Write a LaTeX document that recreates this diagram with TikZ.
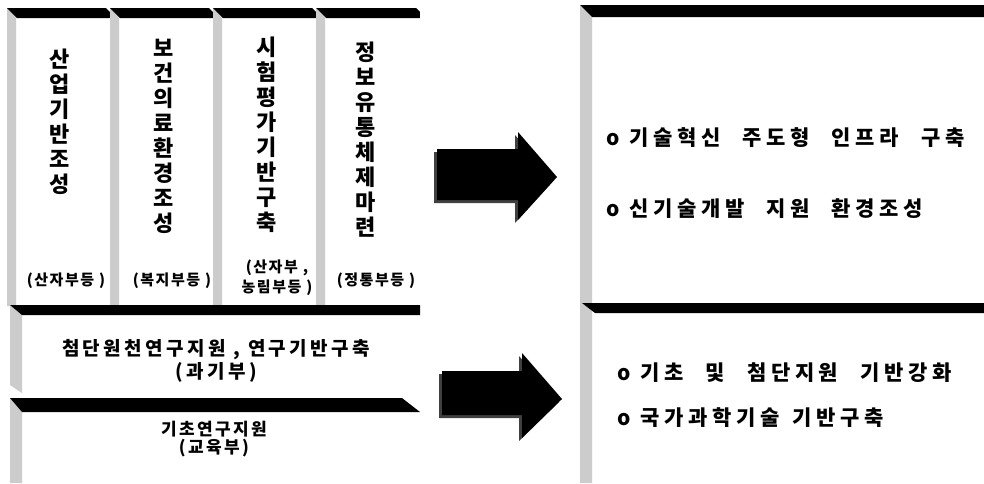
\documentclass[tikz,border=0pt]{standalone}
\usepackage{fontspec}
\newfontfamily\kr{Noto Sans CJK KR}
\newcommand\wg{\hspace{22pt}}
\newcommand\og{\hspace{10pt}}
\begin{document}
\begin{tikzpicture}[x=1pt,y=-1pt,
  coltext/.style={font=\kr\bfseries\fontsize{22}{25}\selectfont, align=center, inner sep=0pt, anchor=center},
  lbl/.style={font=\kr\bfseries\fontsize{15}{20}\selectfont\addfontfeature{LetterSpace=10}, align=center, inner sep=0pt},
  boxtext/.style={font=\kr\bfseries\fontsize{19}{23}\selectfont\addfontfeature{LetterSpace=18}, align=center, inner sep=0pt},
  boxtextb/.style={font=\kr\bfseries\fontsize{17}{18}\selectfont\addfontfeature{LetterSpace=14}, align=center, inner sep=0pt},
  rtext/.style={font=\kr\bfseries\fontsize{21}{24}\selectfont\addfontfeature{LetterSpace=22}, anchor=west, inner sep=0pt},
  bar/.style={fill=black},
  strip/.style={fill=gray!40},
  blockarrow/.style={fill=black},
  arrowshadow/.style={fill=black!75}]
\useasboundingbox (0,0) rectangle (984,483);
\fill[white] (0,0) rectangle (984,483);

% ---- left: four columns ----
\foreach \xl/\xr in {7/110,110/213,213/316,316/420}{
  \fill[strip] (\xl,8) -- (\xl+9,18) -- (\xl+9,306) -- (\xl,306) -- cycle;
  \fill[bar] (\xl,8) -- (\xr-4,8) -- (\xr+6,18) -- (\xl+10,18) -- cycle;
}
\fill[white] (420,0) rectangle (440,20);

\node[coltext] (c1) at (60,121.5) {산\\업\\기\\반\\조\\성};
\node[coltext] (c2) at (164,136.5) {보\\건\\의\\료\\환\\경\\조\\성};
\node[coltext] (c3) at (267,135) {시\\험\\평\\가\\기\\반\\구\\축};
\node[coltext] (c4) at (366,139.5) {정\\보\\유\\통\\체\\제\\마\\련};

\node[lbl] (l1) at (66,281) {(산자부등 )};
\node[lbl] (l2) at (172,281) {(복지부등 )};
\node[lbl] (l3) at (277,278) {(산자부 ,\\농림부등 )};
\node[lbl] (l4) at (376,281) {(정통부등 )};

% ---- left: box 2 ----
\fill[strip] (10,305) -- (22,315) -- (22,393) -- (10,385) -- cycle;
\fill[bar] (10,305) -- (420,305) -- (420,315) -- (22,315) -- cycle;
\node[boxtext] (b2) at (216,360.5) {첨단원천연구지원 , 연구기반구축\\(과기부)};

% ---- left: box 3 ----
\fill[strip] (10,398) -- (22,412) -- (22,483) -- (10,483) -- cycle;
\fill[bar] (10,398) -- (402,398) -- (420,412) -- (22,412) -- cycle;
\node[boxtextb] (b3) at (214,439.5) {기초연구지원\\(교육부)};

% ---- arrows ----
\coordinate (a1) at (437,149);
\coordinate (a2) at (442,371);
\fill[arrowshadow] ([shift={(-3,3)}]a1) -- +(81,0) -- +(81,-17) -- +(120,28) -- +(81,71) -- +(81,51) -- +(0,51) -- cycle;
\fill[blockarrow] (a1) -- +(81,0) -- +(81,-17) -- +(120,28) -- +(81,71) -- +(81,51) -- +(0,51) -- cycle;
\fill[arrowshadow] ([shift={(-3,3)}]a2) -- +(80,0) -- +(80,-18) -- +(120,28) -- +(80,67) -- +(80,44) -- +(0,44) -- cycle;
\fill[blockarrow] (a2) -- +(80,0) -- +(80,-18) -- +(120,28) -- +(80,67) -- +(80,44) -- +(0,44) -- cycle;

% ---- right box ----
\fill[strip] (580,5) -- (592,17) -- (592,483) -- (580,483) -- cycle;
\fill[bar] (580,5) -- (984,5) -- (984,17) -- (592,17) -- cycle;
\fill[bar] (582,303) -- (984,303) -- (984,313) -- (595,313) -- cycle;

\node[rtext] (r1) at (606,138) {o\og 기술혁신\wg 주도형\wg 인프라\wg 구축};
\node[rtext] (r2) at (606,209) {o\og 신기술개발\wg 지원\wg 환경조성};
\node[rtext] (r3) at (617,373) {o\og 기초\wg 및\wg 첨단지원\wg 기반강화};
\node[rtext] (r4) at (617,418) {o\og 국가과학기술\hspace{13pt}기반구축};
\end{tikzpicture}
\end{document}
